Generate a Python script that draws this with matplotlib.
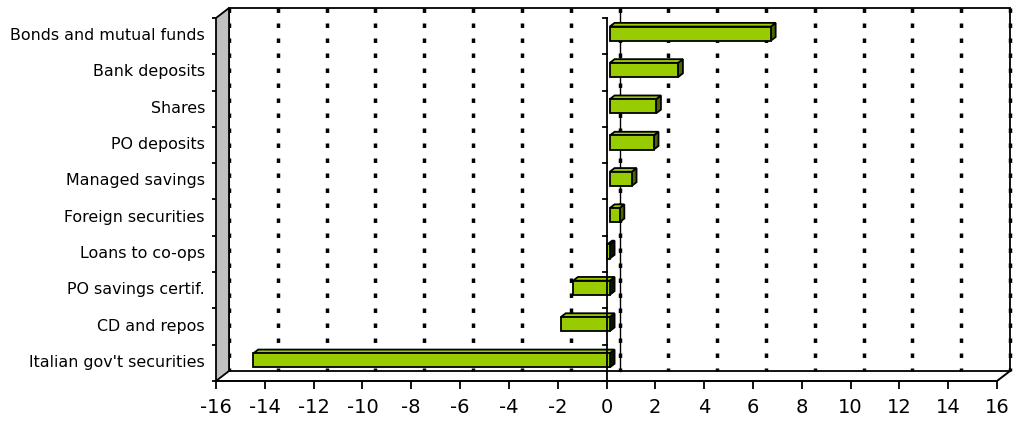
import matplotlib
matplotlib.use("Agg")
import matplotlib.pyplot as plt
from matplotlib.patches import Polygon, Rectangle
from matplotlib.transforms import ScaledTranslation

plt.rcParams['font.family'] = ['DejaVu Sans']
plt.rcParams['lines.scale_dashes'] = False

# Data (top to bottom as listed on the chart)
categories = [
    "Bonds and mutual funds",
    "Bank deposits",
    "Shares",
    "PO deposits",
    "Managed savings",
    "Foreign securities",
    "Loans to co-ops",
    "PO savings certif.",
    "CD and repos",
    "Italian gov't securities",
]
values = [6.6, 2.8, 1.9, 1.8, 0.9, 0.4, -0.1, -1.5, -2.0, -14.6]
x_ticks = list(range(-16, 17, 2))

XMIN, XMAX = -16, 16
N = len(categories)

# 3-D look: depth offset of the back wall in data units
DX, DY = 0.533, 0.2755
BAR_F0, BAR_F1 = 0.25, 0.62      # depth fractions of bar front/back faces
BAR_H = 0.39

FACE = "#99CC00"
TOP = "#99CC00"
SIDE_POS = "#4D6600"
SIDE_NEG = "#111100"

W, H = 1014, 421
fig = plt.figure(figsize=(W / 100, H / 100), dpi=100)
ax = fig.add_axes([216 / W, (H - 381) / H, 781 / W, 363 / H])
ax.set_xlim(XMIN, XMAX)
ax.set_ylim(0, N)
for s in ("top", "right", "left"):
    ax.spines[s].set_visible(False)
ax.spines["bottom"].set_linewidth(1.4)
ax.patch.set_visible(False)

# back wall
ax.add_patch(Rectangle((XMIN + DX, DY), XMAX - XMIN, N, facecolor="white",
                       edgecolor="black", lw=1.3, clip_on=False, zorder=1))
# dashed gridlines on the back wall
for v in x_ticks:
    ax.plot([v + DX, v + DX], [N + DY, DY], color="black", lw=2.5,
            dashes=(3.2, 7.6), dash_capstyle="butt", clip_on=False, zorder=2)
# back zero line
ax.plot([DX, DX], [DY, N + DY], color="black", lw=1.0, clip_on=False, zorder=2)

# left side wall
ax.add_patch(Polygon([(XMIN, 0), (XMIN + DX, DY), (XMIN + DX, N + DY), (XMIN, N)],
                     closed=True, facecolor="#C0C0C0", edgecolor="black", lw=1.3,
                     clip_on=False, zorder=3))
# floor right edge
ax.plot([XMAX, XMAX + DX], [0, DY], color="black", lw=1.4, clip_on=False, zorder=3)

# bars (category 0 at the bottom)
for i, (cat, v) in enumerate(zip(categories, values)):
    c = N - 1 - i + 0.5
    ox0, oy0 = BAR_F0 * DX, BAR_F0 * DY
    ox1, oy1 = BAR_F1 * DX, BAR_F1 * DY
    lo, hi = min(0, v), max(0, v)
    yb, yt = c - BAR_H / 2, c + BAR_H / 2
    # right end face
    side = [(hi + ox0, yb + oy0), (hi + ox1, yb + oy1),
            (hi + ox1, yt + oy1), (hi + ox0, yt + oy0)]
    ax.add_patch(Polygon(side, closed=True,
                         facecolor=SIDE_POS if v > 0 else SIDE_NEG,
                         edgecolor="black", lw=1.3, clip_on=False, zorder=4))
    # top face
    top = [(lo + ox0, yt + oy0), (hi + ox0, yt + oy0),
           (hi + ox1, yt + oy1), (lo + ox1, yt + oy1)]
    ax.add_patch(Polygon(top, closed=True, facecolor=TOP, edgecolor="black",
                         lw=1.3, clip_on=False, zorder=4))
    # front face
    ax.add_patch(Rectangle((lo + ox0, yb + oy0), hi - lo, BAR_H, facecolor=FACE,
                           edgecolor="black", lw=1.3, clip_on=False, zorder=5))

# front zero line with category ticks
ax.plot([0, 0], [0, N], color="black", lw=1.3, clip_on=False, zorder=6)
for k in range(N + 1):
    ax.plot([-0.16, 0], [k, k], color="black", lw=1.3, clip_on=False, zorder=6)

# x axis
ax.set_xticks(x_ticks)
ax.set_xticklabels([str(t) for t in x_ticks], fontsize=14)
ax.tick_params(axis="x", direction="out", length=5.8, width=1.3, pad=6.5)

# category axis on the side wall edge
ax.set_yticks([N - 1 - i + 0.5 for i in range(N)])
ax.set_yticklabels(categories, fontsize=11.4)
ax.set_yticks(range(N + 1), minor=True)
ax.tick_params(axis="y", which="major", length=0, pad=8)
ax.tick_params(axis="y", which="minor", length=3, width=1.3, direction="out")
lift = ScaledTranslation(0, 2 / 100, fig.dpi_scale_trans)
for lbl in ax.get_yticklabels():
    lbl.set_transform(lbl.get_transform() + lift)

fig.savefig("out.png", dpi=100)
